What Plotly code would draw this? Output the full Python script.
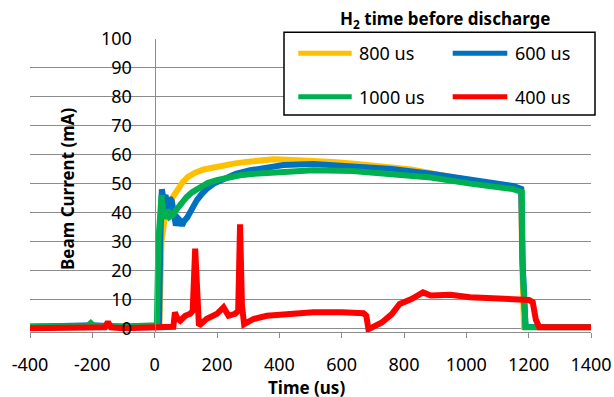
import plotly.graph_objects as go

# ---------------- data ----------------
t_800 = [-400, -300, -200, -100, 0, 15, 22, 27, 35, 50, 71, 90, 107, 130, 157, 200, 258, 300, 383, 459,
         500, 572, 640, 698, 760, 823, 886, 950, 1012, 1075, 1138, 1176, 1179, 1185, 1300, 1400]
v_800 = [0.5, 0.5, 0.8, 0.5, 0.5, 0.6, 30, 36, 40, 44, 47.7, 50.5, 52.3, 53.8, 54.9, 56.0, 57.0, 57.6, 58.4, 58.1,
         58.0, 57.5, 56.9, 56.4, 55.6, 54.9, 53.6, 52.4, 51.2, 50.2, 49.1, 47.9, 24, 0.4, 0.4, 0.4]

t_600 = [-400, -200, -100, 0, 14, 18, 23, 28, 35, 42, 48, 55, 62, 68, 75, 82, 88, 94, 105, 119, 135, 150, 167,
         190, 221, 260, 306, 360, 413, 509, 635, 761, 886, 1012, 1100, 1150, 1176, 1180, 1190, 1300, 1400]
v_600 = [0.5, 1.0, 0.5, 0.5, 0.8, 30, 48, 45, 46, 41, 45, 44, 37, 35.5, 38, 37.2, 35.5, 37, 38.4, 41.3, 44.2, 46.3, 48.2,
         50, 51.7, 53.4, 54.6, 55.6, 56.4, 56.8, 56.2, 55.1, 53.4, 51.4, 50.1, 49.2, 48.2, 24, 0.4, 0.4, 0.4]

t_1000 = [-400, -300, -215, -205, -195, -100, 0, 7, 12, 17, 22, 27, 33, 40, 48, 55, 65, 76, 90, 103, 120, 146,
          170, 199, 235, 274, 320, 360, 456, 509, 635, 761, 886, 1012, 1100, 1150, 1178, 1181, 1190, 1300, 1400]
v_1000 = [0.6, 0.6, 0.8, 1.8, 0.8, 0.6, 0.6, 1, 30, 45.4, 46, 40, 37.9, 41, 38.5, 39, 40.5, 41.9, 43.8, 45.4, 47, 48.8,
          50.2, 51.2, 52.2, 52.9, 53.4, 53.7, 54.1, 54.6, 54.4, 53.5, 52.1, 50.0, 49.0, 48.1, 47.1, 20, 0.3, 0.3, 0.3]

t_400 = [-400, -300, -200, -160, -150, -140, -100, 0, 50, 60, 65, 72, 82, 98, 114, 122, 130, 136, 142, 167, 199,
         221, 237, 258, 268, 274, 280, 287, 317, 360, 445, 509, 600, 635, 670, 679, 686, 698, 729, 761, 786, 824,
         861, 886, 949, 1012, 1075, 1138, 1201, 1213, 1223, 1234, 1300, 1400]
v_400 = [0, 0, 0, 0.3, 2.2, 0.3, 0, 0, 0, 0.5, 5.5, 3.5, 2.6, 4.3, 5, 6, 27.5, 6, 0.9, 3.3, 4.9,
         7.2, 4.3, 5, 6, 35.9, 8, 1.4, 3.2, 4.3, 5.1, 5.5, 5.5, 5.5, 5.2, 4.3, -0.3, 0.3, 2, 4.9, 8.4, 10.1,
         12.4, 11.3, 11.6, 10.7, 10.5, 10.1, 9.8, 9, 3, 0.3, 0.3, 0.3]

series_names = ["800 us", "600 us", "1000 us", "400 us"]
series_colors = ["#FFC000", "#0070C0", "#00B050", "#FF0000"]

x_tickvals = [-400, -200, 0, 200, 400, 600, 800, 1000, 1200, 1400]
x_ticktext = ["-400", "-200", "0", "200", "400", "600", "800", "1000", "1200", "1400"]
y_tickvals = [0, 10, 20, 30, 40, 50, 60, 70, 80, 90, 100]

# ---------------- layout geometry ----------------
W, H = 614, 397
ML, MR, MT, MB = 30, 23, 39, 65
PW, PH = W - ML - MR, H - MT - MB


def px(x):
    return (x - ML) / PW


def py(y):
    return (H - MB - y) / PH


FONT = "Noto Sans"
GRID = "#8c8c8c"

fig = go.Figure()
data = [(t_800, v_800), (t_600, v_600), (t_1000, v_1000), (t_400, v_400)]
for (t, v), name, col in zip(data, series_names, series_colors):
    fig.add_trace(go.Scatter(x=t, y=v, mode="lines", name=name,
                             line=dict(color=col, width=6)))

shapes = []
annotations = []

# legend box
shapes.append(dict(type="rect", xref="paper", yref="paper", x0=px(284), x1=px(595), y0=py(115), y1=py(32.3),
                   line=dict(color="#000000", width=1.5), fillcolor="white", layer="above"))
leg_pos = [(298.3, 351.7, 357.3, 53.3), (452.7, 507.3, 512.7, 53.3),
           (298.3, 351.7, 357.3, 96.7), (452.7, 507.3, 512.7, 96.7)]
for (x0, x1, xt, yy), name, col in zip(leg_pos, series_names, series_colors):
    shapes.append(dict(type="line", xref="paper", yref="paper", x0=px(x0), x1=px(x1), y0=py(yy), y1=py(yy),
                       line=dict(color=col, width=5), layer="above"))
    annotations.append(dict(text=name, xref="paper", yref="paper", x=px(xt), y=py(yy), xanchor="left",
                            yanchor="middle", showarrow=False, font=dict(family=FONT, size=18, color="black")))

annotations.append(dict(text="<b>H<sub>2</sub> time before discharge</b>", xref="paper", yref="paper",
                        x=px(445), y=py(20), xanchor="center", yanchor="middle", showarrow=False,
                        font=dict(family=FONT, size=17, color="black")))
annotations.append(dict(text="<b>Time (us)</b>", xref="paper", yref="paper", x=px(306.5), y=py(387.5),
                        xanchor="center", yanchor="middle", showarrow=False,
                        font=dict(family=FONT, size=17, color="black")))
annotations.append(dict(text="<b>Beam Current (mA)</b>", xref="paper", yref="paper", x=px(67.5), y=py(188.5),
                        xanchor="center", yanchor="middle", showarrow=False, textangle=-90,
                        font=dict(family=FONT, size=17, color="black")))

fig.update_layout(
    width=W, height=H,
    margin=dict(l=ML, r=MR, t=MT, b=MB, pad=0),
    paper_bgcolor="white", plot_bgcolor="white",
    showlegend=False,
    font=dict(family=FONT, size=18, color="black"),
    xaxis=dict(range=[-400, 1400], tickvals=x_tickvals, ticktext=x_ticktext, showgrid=False, zeroline=False,
               showline=True, linecolor=GRID, linewidth=1.3, ticks="outside", ticklen=5, tickcolor=GRID,
               tickwidth=1.3, ticklabelstandoff=11, automargin=False,
               tickfont=dict(family=FONT, size=18, color="black")),
    yaxis=dict(range=[-1.3, 100], tickvals=y_tickvals, showgrid=True, gridcolor=GRID, gridwidth=1.3,
               zeroline=False, showline=True, linecolor=GRID, linewidth=1.3, ticks="",
               anchor="free", position=400 / 1800, ticklabelstandoff=19, automargin=False,
               tickfont=dict(family=FONT, size=18, color="black")),
    shapes=shapes,
    annotations=annotations,
)

fig.write_html("out.html", config={"displayModeBar": False},
               post_script="document.body.style.margin='0';document.body.style.padding='0';")
